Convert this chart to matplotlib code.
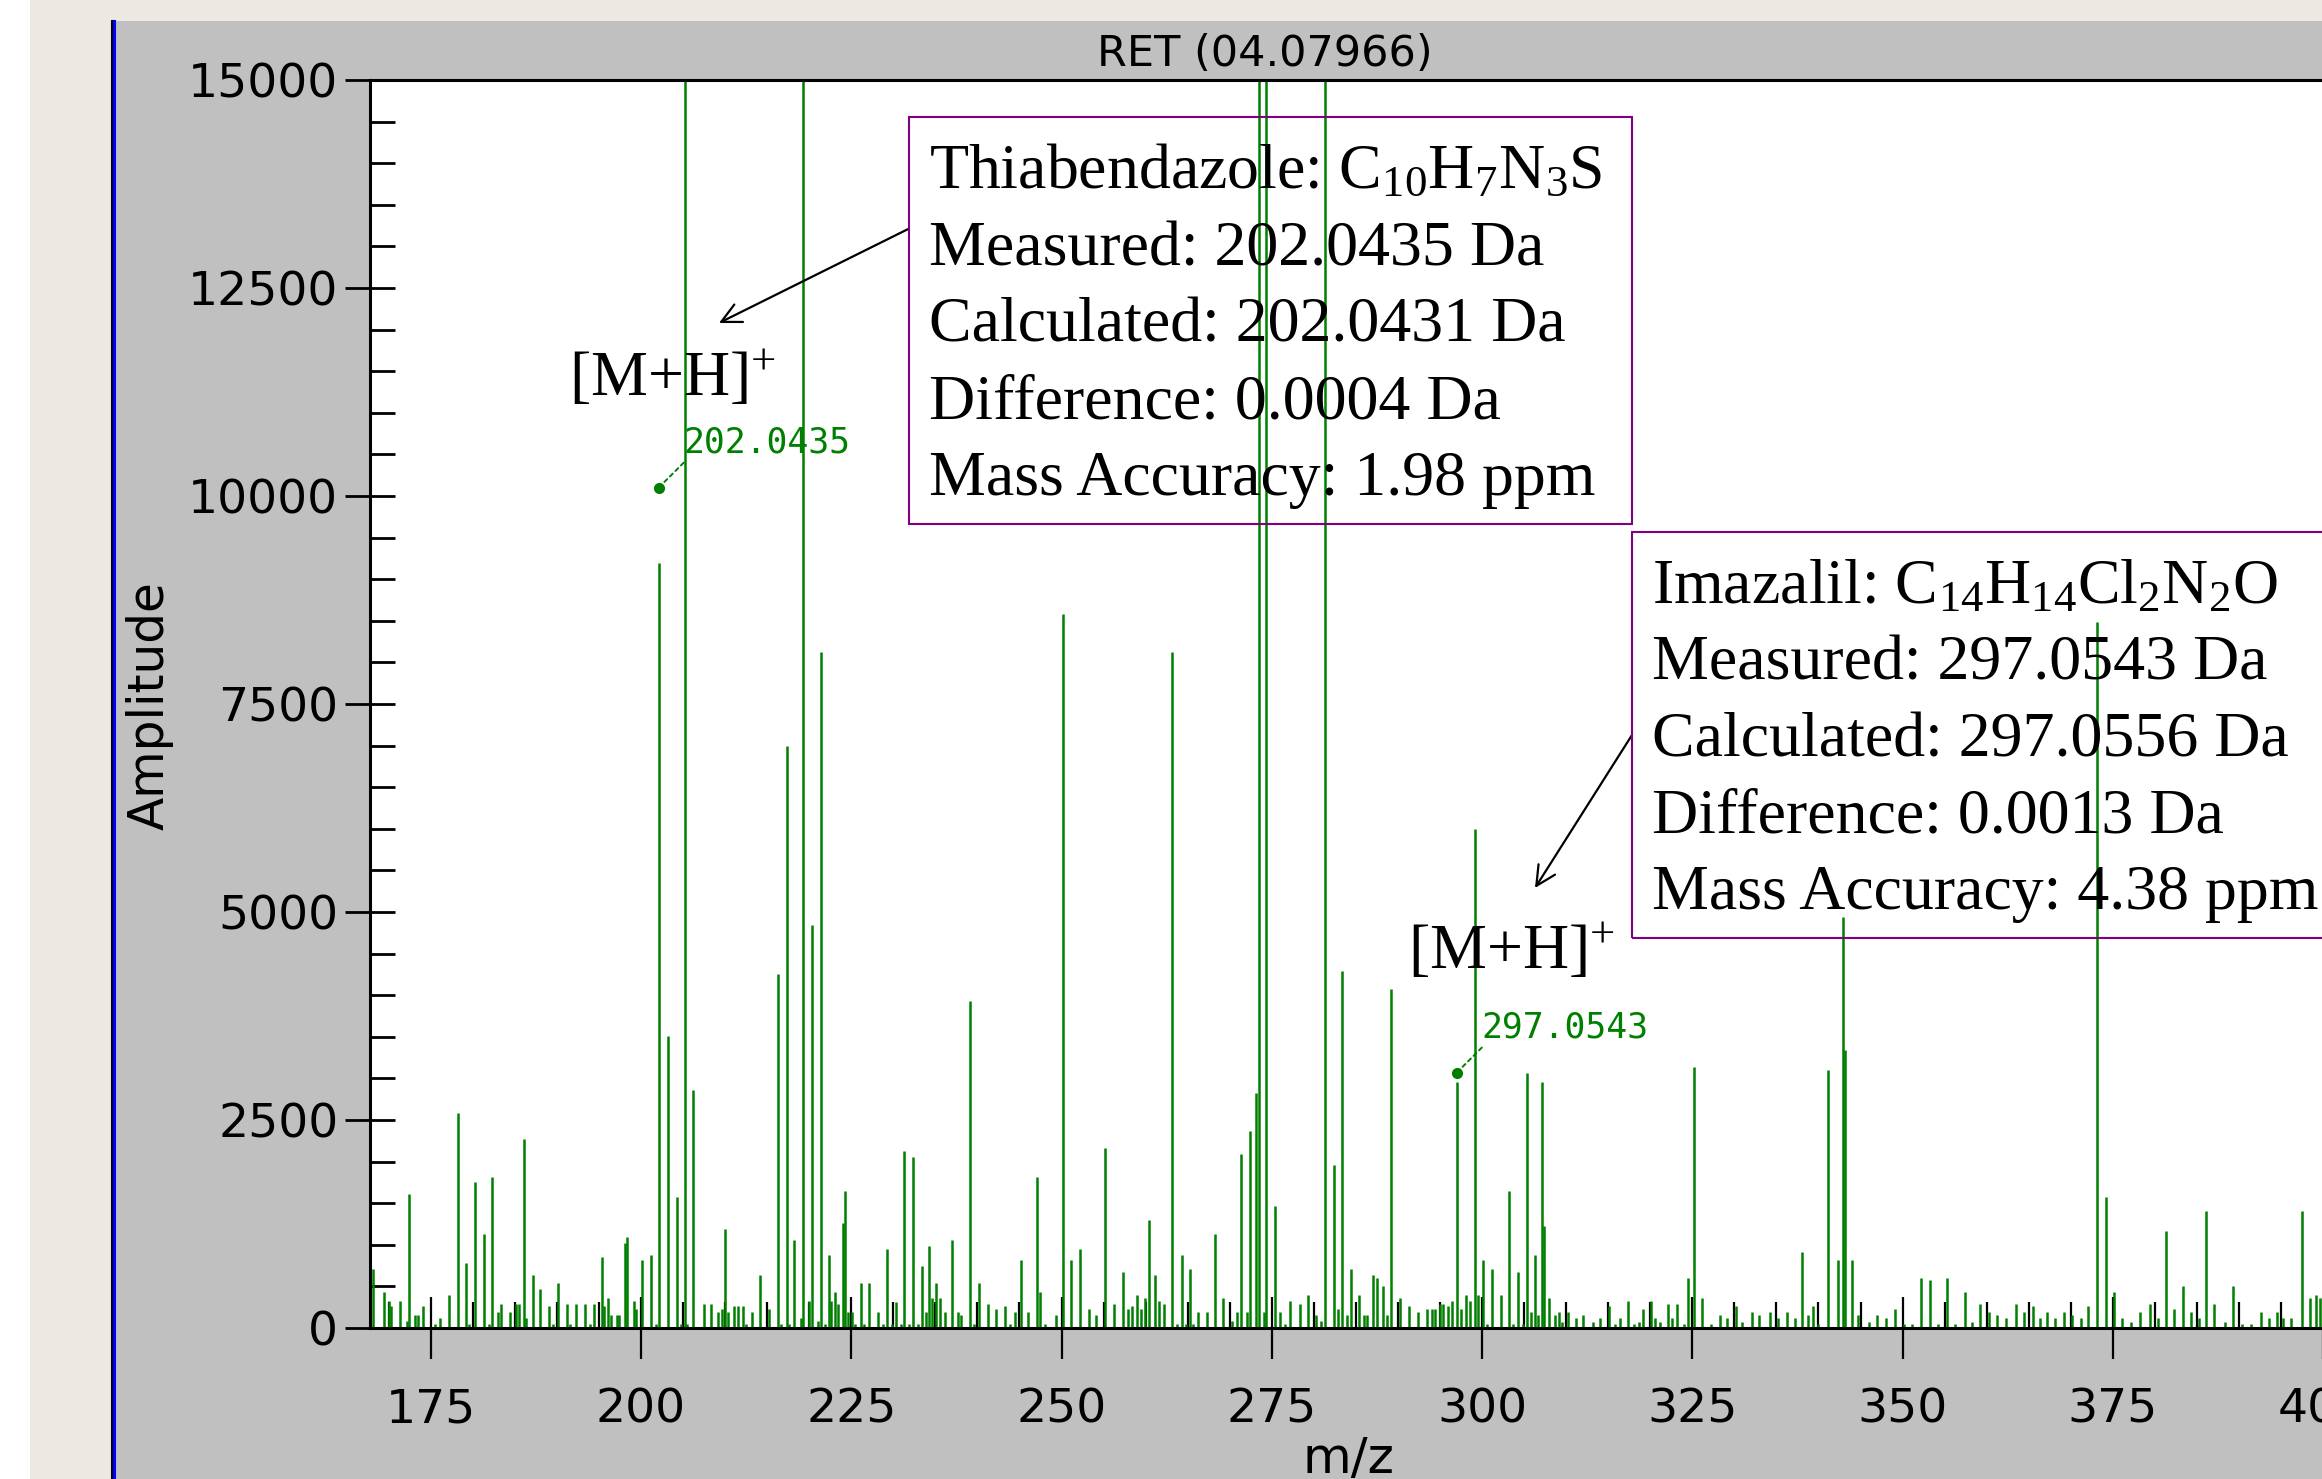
"""Mass spectrum at RET 04.07966 with thiabendazole / imazalil [M+H]+ annotations."""

import matplotlib
matplotlib.use('Agg')
import matplotlib.pyplot as plt
from matplotlib.patches import Rectangle
from matplotlib.lines import Line2D
from matplotlib.ticker import MultipleLocator, StrMethodFormatter

# ── data ────────────────────────────────────────────────────────────────────
OFF = 18000   # peaks that run off the top of the 15000 scale

peak_mz = [
    168.18, 169.39, 169.99, 170.30, 171.36, 172.12, 172.42, 173.18, 173.48, 174.09,
    175.45, 176.06, 177.12, 178.26, 179.24, 179.55, 180.31, 181.37, 181.98, 182.28,
    183.04, 183.34, 184.40, 185.16, 185.46, 186.07, 186.37, 187.13, 188.04, 189.10,
    189.56, 190.16, 191.22, 191.53, 192.29, 193.35, 193.95, 194.41, 195.32, 195.62,
    196.08, 196.38, 197.14, 197.44, 198.05, 198.35, 199.11, 199.41, 200.17, 201.23,
    201.84, 202.14, 203.20, 204.26, 204.72, 205.17, 205.47, 206.23, 207.45, 208.36,
    209.12, 209.57, 210.03, 210.33, 211.09, 211.54, 212.15, 212.45, 213.21, 214.12,
    215.18, 216.24, 216.70, 217.31, 217.61, 218.22, 218.97, 219.28, 220.03, 220.34,
    221.10, 221.40, 221.86, 222.31, 222.62, 223.07, 223.37, 223.98, 224.28, 224.58,
    225.04, 225.49, 226.10, 226.55, 227.16, 228.22, 228.83, 229.29, 229.89, 230.35,
    230.95, 231.26, 231.87, 232.32, 232.92, 233.38, 233.83, 234.29, 234.59, 235.05,
    235.50, 236.11, 237.02, 237.63, 238.08, 239.14, 239.59, 240.20, 241.26, 242.17,
    243.24, 243.84, 244.45, 245.21, 245.96, 247.03, 247.48, 248.09, 249.30, 250.21,
    251.12, 252.18, 253.24, 254.15, 255.22, 256.28, 257.34, 257.95, 258.40, 259.01,
    259.47, 259.92, 260.37, 261.13, 261.59, 262.19, 263.10, 263.71, 264.31, 264.77,
    265.22, 265.68, 266.28, 267.35, 268.26, 269.16, 270.23, 270.83, 271.29, 272.05,
    272.35, 273.11, 273.45, 274.02, 274.36, 275.38, 275.99, 276.59, 277.20,
    278.33, 279.34, 280.27, 280.89, 281.35, 282.36, 282.90, 283.37, 283.99, 284.45,
    285.38, 286.00, 286.31, 287.09, 287.55, 288.17, 288.64, 289.18, 290.19, 291.27,
    292.36, 293.44, 294.06, 294.37, 294.99, 295.30, 295.92, 296.39, 297.01, 297.47,
    298.09, 298.56, 299.18, 299.49, 300.11, 300.57, 301.19, 302.28, 303.21, 303.67,
    304.29, 304.91, 305.38, 305.84, 306.31, 306.62, 307.08, 307.39, 308.01, 308.63,
    309.10, 309.56, 310.18, 311.11, 312.04, 313.13, 314.06, 315.14, 315.76, 316.38,
    317.31, 318.09, 318.71, 319.17, 320.10, 320.57, 321.19, 322.12, 322.58, 323.20,
    323.97, 324.44, 325.22, 326.15, 327.23, 328.32, 329.09, 330.18, 330.95, 332.04,
    332.97, 334.21, 335.14, 336.22, 337.15, 338.08, 338.70, 339.32, 339.94, 341.18,
    342.27, 342.89, 343.20, 343.97, 344.75, 345.99, 346.92, 347.99, 349.09, 350.17,
    351.10, 352.19, 353.27, 354.20, 355.29, 356.22, 357.46, 358.23, 359.16, 360.25,
    361.18, 362.26, 363.50, 364.43, 365.52, 366.29, 367.22, 368.15, 369.24, 370.17,
    371.26, 372.03, 373.11, 374.20, 375.13, 376.06, 377.14, 378.23, 379.47, 380.40,
    381.33, 382.26, 383.34, 384.27, 385.20, 386.13, 387.07, 388.29, 389.23, 390.32,
    391.41, 392.64, 393.57, 394.50, 395.20, 396.20, 397.45, 398.38, 399.15, 399.61,
]
peak_amp = [
    709, 428, 324, 268, 324, 84, 1611, 156, 156, 268,
    52, 124, 396, 2580, 781, 52, 1755, 1130, 52, 1815,
    196, 284, 196, 284, 284, 2272, 124, 637, 469, 268,
    52, 541, 284, 52, 284, 284, 52, 284, 853, 268,
    357, 156, 156, 156, 1021, 1094, 324, 228, 821, 877,
    52, 9190, 3513, 1580, 52, OFF, 52, 2860, 284, 284,
    196, 228, 1190, 196, 268, 268, 268, 52, 196, 637,
    228, 4250, 52, 6990, 52, 1062, 124, OFF, 324, 4840,
    84, 8130, 52, 877, 324, 428, 292, 1262, 1647, 196,
    196, 52, 541, 52, 541, 196, 52, 949, 52, 308,
    52, 2127, 52, 2055, 52, 749, 196, 981, 357, 541,
    357, 196, 1062, 196, 156, 3930, 52, 541, 284, 228,
    268, 52, 196, 821, 196, 1815, 428, 52, 156, 8580,
    821, 949, 228, 156, 2160, 284, 669, 228, 268, 396,
    228, 357, 1298, 637, 324, 284, 8130, 52, 877, 52,
    709, 52, 196, 196, 1130, 364, 84, 196, 2095, 196,
    2368, 2825, OFF, 196, OFF, 1466, 196, 52, 324,
    292, 396, 156, 84, OFF, 1963, 228, 4290, 156, 709,
    396, 156, 156, 637, 605, 509, 156, 4075, 357, 268,
    196, 228, 228, 228, 284, 284, 268, 324, 2957, 228,
    396, 324, 6000, 396, 821, 52, 709, 396, 1647, 52,
    669, 52, 3066, 196, 877, 156, 2957, 1222, 357, 156,
    196, 76, 196, 116, 156, 76, 116, 268, 52, 116,
    324, 52, 76, 228, 324, 116, 76, 292, 116, 292,
    52, 605, 3137, 357, 52, 156, 116, 268, 76, 196,
    156, 196, 116, 196, 116, 909, 156, 268, 52, 3101,
    821, 4940, 3342, 821, 156, 76, 156, 116, 228, 52,
    52, 605, 580, 52, 605, 52, 428, 76, 292, 196,
    156, 116, 292, 196, 268, 116, 196, 116, 196, 156,
    116, 268, 8490, 1580, 428, 116, 76, 196, 292, 116,
    1170, 228, 509, 196, 116, 1406, 292, 76, 509, 52,
    52, 196, 116, 196, 116, 116, 1406, 357, 396, 357,
]

# labelled peaks: text, m/z, amplitude of the marker dot
label_text = ['202.0435', '297.0543']
label_mz   = [202.10, 297.00]
label_amp  = [10100, 3070]

title     = 'RET (04.07966)'
thia_text = [r'Thiabendazole: $\mathrm{C_{10}H_{7}N_{3}S}$',
             'Measured: 202.0435 Da', 'Calculated: 202.0431 Da',
             'Difference: 0.0004 Da', 'Mass Accuracy: 1.98 ppm']
imaz_text = [r'Imazalil: $\mathrm{C_{14}H_{14}Cl_{2}N_{2}O}$',
             'Measured: 297.0543 Da', 'Calculated: 297.0556 Da',
             'Difference: 0.0013 Da', 'Mass Accuracy: 4.38 ppm']
ion_label = r'[M+H]$^{+}$'

# ── styling ────────────────────────────────────────────────────────────────
W, H   = 2322, 1479
GREEN  = '#008000'
PURPLE = '#800080'
GRAY   = '#C0C0C0'
BEIGE  = '#ECE9E2'
SERIF  = 'Liberation Serif'

plt.rcParams['mathtext.fontset'] = 'custom'
plt.rcParams['mathtext.rm'] = SERIF
plt.rcParams['mathtext.it'] = SERIF + ':italic'
plt.rcParams['mathtext.bf'] = SERIF + ':bold'


def fp(x, y):
    """reference pixel (origin top-left) -> figure fraction"""
    return x / W, 1 - y / H


fig = plt.figure(figsize=(W / 100, H / 100), dpi=100)
fig.patch.set_facecolor('white')

# window chrome: beige frame, gray panel, black/blue left rule
fig.add_artist(Rectangle((30 / W, 0), 1, 1, transform=fig.transFigure,
                         facecolor=BEIGE, edgecolor='none', zorder=-5))
fig.add_artist(Rectangle((113 / W, 0), 1, (H - 21) / H, transform=fig.transFigure,
                         facecolor=GRAY, edgecolor='none', zorder=-4))
fig.add_artist(Line2D([111.5 / W] * 2, [0, (H - 21) / H], transform=fig.transFigure,
                      color='black', lw=1.5, zorder=-3))
fig.add_artist(Line2D([114.5 / W] * 2, [0, (H - 21) / H], transform=fig.transFigure,
                      color='#0000FF', lw=2.2, zorder=-3))

ax = fig.add_axes([370.2 / W, (H - 1328) / H, (2345 - 370.2) / W, (1328 - 80) / H])
ax.set_facecolor('white')
ax.vlines(peak_mz, 0, peak_amp, color=GREEN, lw=1.8, zorder=2)

ax.set_xlim(167.8, 402.6)
ax.set_ylim(0, 15000)
ax.xaxis.set_major_locator(MultipleLocator(25))
ax.xaxis.set_minor_locator(MultipleLocator(5))
ax.yaxis.set_major_locator(MultipleLocator(2500))
ax.yaxis.set_minor_locator(MultipleLocator(500))
ax.yaxis.set_major_formatter(StrMethodFormatter('{x:.0f}'))
ax.xaxis.set_major_formatter(StrMethodFormatter('{x:.0f}'))

for s in ['left', 'top', 'bottom', 'right']:
    ax.spines[s].set_linewidth(2.2)
ax.tick_params(axis='y', which='major', direction='inout', length=36, width=2,
               labelsize=34, pad=5)
ax.tick_params(axis='y', which='minor', direction='in', length=18, width=2)
ax.tick_params(axis='x', which='major', direction='inout', length=45, width=1.6,
               labelsize=34, pad=20)
ax.tick_params(axis='x', which='minor', direction='in', length=19, width=1.6)
for lab in ax.get_xticklabels() + ax.get_yticklabels():
    lab.set_family('DejaVu Sans')

# peak labels with dotted leaders
for txt, mz, amp in zip(label_text, label_mz, label_amp):
    ax.plot(mz, amp, 'o', ms=7, color=GREEN, zorder=4)
    ax.annotate('', xy=(mz, amp), xytext=(25, 25), textcoords='offset pixels',
                arrowprops=dict(arrowstyle='-', color=GREEN, lw=1.4, ls=(0, (2, 2)),
                                shrinkA=0, shrinkB=0))
    ax.annotate(txt, xy=(mz, amp), xytext=(25, 35), textcoords='offset pixels',
                color=GREEN, fontsize=25, family='DejaVu Sans Mono',
                ha='left', va='baseline')

# titles and axis labels
fig.text(*fp(1265, 66), title, fontsize=31, ha='center', va='baseline')
fig.text(*fp(150, 706), 'Amplitude', fontsize=35, rotation=90, ha='center', va='center')
fig.text(*fp(1348, 1473), 'm/z', fontsize=36, ha='center', va='baseline')

# compound boxes
for (x0, y0, x1, y1), lines, tx, ty in [
        ((909, 117, 1632, 524), thia_text, 929, 188.6),
        ((1632, 532, 2340, 938), imaz_text, 1652, 603)]:
    fig.add_artist(Rectangle(fp(x0, y1), (x1 - x0) / W, (y1 - y0) / H,
                             transform=fig.transFigure, facecolor='none',
                             edgecolor=PURPLE, lw=1.5, zorder=5))
    for i, line in enumerate(lines):
        fig.text(*fp(tx, ty + i * 76.5), line, fontsize=46, family=SERIF,
                 ha='left', va='baseline', zorder=5)

# [M+H]+ labels and arrows
for lx, ly in [(569, 396), (1408, 969)]:
    fig.text(*fp(lx, ly), ion_label, fontsize=46, family=SERIF, ha='left',
             va='baseline', zorder=5)
for (x0, y0), (x1, y1) in [((909, 228.6), (719, 323)), ((1632, 735), (1535, 888))]:
    ax.annotate('', xy=fp(x1, y1), xycoords='figure fraction',
                xytext=fp(x0, y0), textcoords='figure fraction',
                arrowprops=dict(arrowstyle='->', color='black', lw=1.6,
                                mutation_scale=35, shrinkA=0, shrinkB=0),
                annotation_clip=False)

fig.savefig('out.png', dpi=100)
